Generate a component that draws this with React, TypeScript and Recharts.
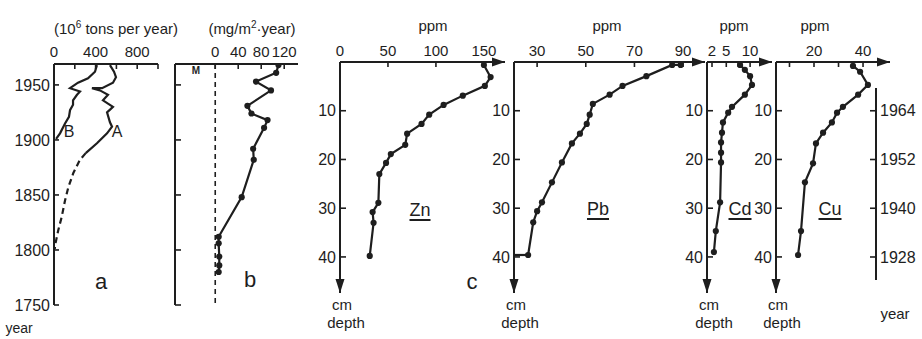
import React from 'react';
import { ScatterChart, Scatter, XAxis, YAxis, ReferenceLine, ReferenceDot } from 'recharts';

const W = 922;
const H = 339;
const INK = '#1e1e1e';
const FONT = "'Liberation Sans', Arial, sans-serif";

// ---------- panel a : emissions (10^6 tons per year) ----------
const yearTicks = [1750, 1800, 1850, 1900, 1950];
const emissionTicks = [0, 200, 400, 600, 800, 1000];
const emissionTickLabels = ['0', '', '400', '', '800', ''];
const curveAYears = [1968, 1962, 1957, 1952, 1947, 1947, 1945, 1941, 1936, 1930, 1925, 1916, 1912, 1906, 1897, 1888];
const curveAValues = [538, 577, 596, 567, 462, 365, 442, 519, 471, 567, 510, 538, 558, 510, 413, 305];
const curveAEarlyYears = [1888, 1882, 1870, 1857, 1845, 1830, 1818, 1804, 1801];
const curveAEarlyValues = [305, 250, 186, 138, 106, 74, 41, 10, 8];
const curveBYears = [1968, 1962, 1956, 1952, 1947, 1944, 1941, 1936, 1932, 1927, 1921, 1915, 1906, 1901];
const curveBValues = [413, 394, 327, 231, 154, 250, 221, 183, 183, 154, 144, 106, 58, 20];

// ---------- panel b : deposition (mg/m2 year) ----------
const depositionTicks = [0, 40, 80, 120];
const depositionYears = [1968, 1961, 1953, 1945, 1931, 1924, 1918, 1911, 1892, 1882, 1848, 1812, 1806, 1794, 1786, 1780];
const depositionValues = [110, 106, 71, 97, 56, 63, 91, 85, 66, 67, 46, 6, 6, 7, 7, 6];

// ---------- panel c : sediment profiles (ppm vs cm depth) ----------
const depthTicks = [10, 20, 30, 40];
const znTicks = [0, 50, 100, 150];
const znTickLabels = ['0', '50', '100', '150'];
const znDepths = [0.6, 3.1, 4.9, 6.9, 8.8, 10.8, 12.7, 14.7, 17.0, 18.9, 20.7, 23.0, 28.9, 30.8, 33.0, 39.8];
const znValues = [150, 157, 151, 128, 108, 93, 85, 70, 68, 53, 48, 41, 40, 34, 35, 31];

const pbTicks = [30, 50, 70, 90];
const pbTickLabels = ['30', '50', '70', '90'];
const pbDepths = [0.6, 0.6, 2.9, 4.9, 6.7, 8.6, 10.8, 12.7, 14.7, 16.7, 20.6, 24.7, 28.8, 30.6, 32.9, 39.6];
const pbValues = [89, 85.5, 74.9, 65.1, 59.8, 52.9, 51.6, 50.4, 47.6, 44.3, 40.2, 36.1, 32.0, 30.0, 28.4, 26.3];
const pbTailDepths = [39.6, 39.6];
const pbTailValues = [26.3, 20.5];

const cdTicks = [2, 5, 7.5, 10];
const cdTickLabels = ['2', '5', '', '10'];
const cdDepths = [0.6, 1.6, 2.9, 4.7, 6.7, 9.2, 10.4, 12.4, 14.5, 16.5, 18.6, 20.6, 28.8, 34.7, 39.0];
const cdValues = [7.9, 8.9, 10.0, 10.4, 8.9, 6.2, 5.4, 4.3, 4.1, 3.9, 3.9, 3.9, 3.7, 2.8, 2.4];

const cuTicks = [10, 20, 30, 40];
const cuTickLabels = ['', '20', '', '40'];
const cuDepths = [0.8, 2.0, 4.7, 6.7, 9.2, 10.4, 12.4, 14.5, 16.7, 20.8, 24.7, 34.7, 39.6];
const cuValues = [35.9, 38.8, 42.0, 38.0, 31.8, 29.4, 27.3, 23.7, 20.8, 19.6, 16.3, 14.7, 13.5];

const yearScaleDepths = [10, 20, 30, 40];
const yearScaleLabels = ['1964', '1952', '1940', '1928'];

// ---------- helpers ----------
const pts = (xs: number[], ys: number[]) => xs.map((v, i) => ({ v, d: ys[i] }));

type Rect = { left: number; top: number; right: number; bottom: number };
const XH = 24;
const YW = 40;
const marginFor = (r: Rect, xh = XH, yw = YW) => ({
  top: r.top - xh,
  left: r.left - yw,
  right: W - r.right,
  bottom: H - r.bottom,
});

const axisStyle = { stroke: INK, strokeWidth: 2 };
const tickStyle = { stroke: INK, strokeWidth: 1.6 };
const tickText = { fill: INK, fontSize: 15, fontFamily: FONT };
const lineStyle = { stroke: INK, strokeWidth: 2.2, fill: 'none' };

const Dot = (p: any) => <circle cx={p.cx} cy={p.cy} r={3.1} fill={INK} />;
const NoDot = () => <g />;
const ArrowRight = (p: any) => (
  <polygon points={`${p.cx},${p.cy} ${p.cx - 13},${p.cy - 4.5} ${p.cx - 13},${p.cy + 4.5}`} fill={INK} />
);
const ArrowDown = (p: any) => (
  <polygon points={`${p.cx},${p.cy} ${p.cx - 4.5},${p.cy - 14} ${p.cx + 4.5},${p.cy - 14}`} fill={INK} />
);

const Layer = ({ children }: { children: React.ReactNode }) => (
  <div style={{ position: 'absolute', left: 0, top: 0, width: W, height: H }}>{children}</div>
);

const Txt = ({ x, y, size = 15, children, anchor = 'middle', underline = false, bold = false }: any) => (
  <div
    style={{
      position: 'absolute',
      left: x,
      top: y,
      transform: `translate(${anchor === 'middle' ? -50 : anchor === 'end' ? -100 : 0}%, -50%)`,
      fontFamily: FONT,
      fontSize: size,
      fontWeight: bold ? 700 : 400,
      color: INK,
      whiteSpace: 'nowrap',
      lineHeight: 1,
      textDecoration: underline ? 'underline' : undefined,
      textDecorationThickness: underline ? 2 : undefined,
      textUnderlineOffset: underline ? 3 : undefined,
    }}
  >
    {children}
  </div>
);

const labelFrom = (ticks: number[], labels: string[]) => (v: number) => {
  const i = ticks.indexOf(v);
  return i >= 0 ? labels[i] : '';
};

// ---------- panels ----------
const rectA: Rect = { left: 54, top: 64, right: 158, bottom: 305 };
const rectB: Rect = { left: 175, top: 64, right: 298, bottom: 305 };

function PanelA() {
  return (
    <ScatterChart width={W} height={H} margin={marginFor(rectA)}>
      <XAxis
        dataKey="v" type="number" orientation="top" domain={[0, 1000]} ticks={emissionTicks} interval={0}
        tickFormatter={labelFrom(emissionTicks, emissionTickLabels)} height={XH} tickSize={-5} tickMargin={12}
        axisLine={axisStyle} tickLine={tickStyle} tick={tickText} allowDataOverflow
      />
      <YAxis
        dataKey="d" type="number" domain={[1750, 1969]} ticks={yearTicks} interval={0} width={YW}
        tickSize={-5} tickMargin={9} axisLine={axisStyle} tickLine={tickStyle} tick={{ ...tickText, fontSize: 16 }} allowDataOverflow
      />
      <Scatter data={pts(curveAValues, curveAYears)} line={lineStyle} lineType="joint" shape={NoDot} fill={INK} isAnimationActive={false} />
      <Scatter data={pts(curveAEarlyValues, curveAEarlyYears)} line={{ ...lineStyle, strokeDasharray: '6 4' }} lineType="joint" shape={NoDot} fill={INK} isAnimationActive={false} />
      <Scatter data={pts(curveBValues, curveBYears)} line={lineStyle} lineType="joint" shape={NoDot} fill={INK} isAnimationActive={false} />
    </ScatterChart>
  );
}

function PanelB() {
  return (
    <ScatterChart width={W} height={H} margin={marginFor(rectB)}>
      <XAxis
        dataKey="v" type="number" orientation="top" domain={[-70, 144]} ticks={depositionTicks} interval={0}
        height={XH} tickSize={-5} tickMargin={12} axisLine={axisStyle} tickLine={tickStyle} tick={tickText} allowDataOverflow
      />
      <YAxis
        dataKey="d" type="number" domain={[1750, 1969]} ticks={yearTicks} interval={0} width={YW}
        tickFormatter={() => ''} tickSize={-6} tickMargin={9} axisLine={axisStyle} tickLine={tickStyle} tick={tickText} allowDataOverflow
      />
      <ReferenceLine x={0} stroke={INK} strokeWidth={1.6} strokeDasharray="5 4" />
      <Scatter data={pts(depositionValues, depositionYears)} line={lineStyle} lineType="joint" shape={Dot} fill={INK} isAnimationActive={false} />
    </ScatterChart>
  );
}

function DepthPanel({ rect, domain, ticks, labels, series, tail }: any) {
  return (
    <ScatterChart width={W} height={H} margin={marginFor(rect)}>
      <XAxis
        dataKey="v" type="number" orientation="top" domain={domain} ticks={ticks} interval={0}
        tickFormatter={labelFrom(ticks, labels)} height={XH} tickSize={-5} tickMargin={11}
        axisLine={axisStyle} tickLine={tickStyle} tick={tickText} allowDataOverflow
      />
      <YAxis
        dataKey="d" type="number" reversed domain={[0, 47.4]} ticks={depthTicks} interval={0} width={YW}
        tickSize={-6} tickMargin={10} axisLine={axisStyle} tickLine={tickStyle} tick={{ ...tickText, fontSize: 16 }} allowDataOverflow
      />
      <ReferenceDot x={domain[1]} y={0} r={0} shape={ArrowRight} ifOverflow="visible" />
      <ReferenceDot x={domain[0]} y={47.4} r={0} shape={ArrowDown} ifOverflow="visible" />
      {tail ? (
        <Scatter data={tail} line={lineStyle} lineType="joint" shape={NoDot} fill={INK} isAnimationActive={false} />
      ) : null}
      <Scatter data={series} line={lineStyle} lineType="joint" shape={Dot} fill={INK} isAnimationActive={false} />
    </ScatterChart>
  );
}

function YearScale() {
  const rect: Rect = { left: 860, top: 88, right: 876, bottom: 280 };
  return (
    <ScatterChart width={W} height={H} margin={{ top: rect.top, left: rect.left, right: W - rect.right - YW, bottom: H - rect.bottom }}>
      <XAxis dataKey="v" type="number" domain={[0, 1]} hide />
      <YAxis
        dataKey="d" type="number" orientation="right" reversed domain={[5.33, 44.72]} ticks={yearScaleDepths} interval={0}
        width={YW} tickFormatter={labelFrom(yearScaleDepths, yearScaleLabels)} tickSize={-6} tickMargin={10}
        axisLine={axisStyle} tickLine={tickStyle} tick={{ ...tickText, fontSize: 16 }} allowDataOverflow
      />
      <Scatter data={[]} shape={NoDot} isAnimationActive={false} />
    </ScatterChart>
  );
}

export default function App() {
  return (
    <div style={{ position: 'absolute', left: 0, top: 0, width: W, height: H, background: '#fff', overflow: 'hidden' }}>
      <Layer><PanelA /></Layer>
      <Layer><PanelB /></Layer>
      <Layer>
        <DepthPanel rect={{ left: 340, top: 62, right: 505, bottom: 293 }} domain={[0, 172]} ticks={znTicks} labels={znTickLabels} series={pts(znValues, znDepths)} />
      </Layer>
      <Layer>
        <DepthPanel rect={{ left: 514, top: 62, right: 705, bottom: 293 }} domain={[20.5, 99]} ticks={pbTicks} labels={pbTickLabels} series={pts(pbValues, pbDepths)} tail={pts(pbTailValues, pbTailDepths)} />
      </Layer>
      <Layer>
        <DepthPanel rect={{ left: 707, top: 62, right: 772, bottom: 293 }} domain={[0.95, 14.6]} ticks={cdTicks} labels={cdTickLabels} series={pts(cdValues, cdDepths)} />
      </Layer>
      <Layer>
        <DepthPanel rect={{ left: 776, top: 62, right: 890, bottom: 293 }} domain={[4.5, 51]} ticks={cuTicks} labels={cuTickLabels} series={pts(cuValues, cuDepths)} />
      </Layer>
      <Layer><YearScale /></Layer>

      <Txt x={116} y={28}>(10<sup style={{ fontSize: 10 }}>6</sup> tons per year)</Txt>
      <Txt x={252} y={28}>(mg/m<sup style={{ fontSize: 10 }}>2</sup>·year)</Txt>
      <Txt x={433} y={25}>ppm</Txt>
      <Txt x={607} y={25}>ppm</Txt>
      <Txt x={734} y={25}>ppm</Txt>
      <Txt x={815} y={25}>ppm</Txt>

      <Txt x={117} y={132} size={16}>A</Txt>
      <Txt x={69} y={132} size={16}>B</Txt>
      <Txt x={196} y={71} size={10} bold>M</Txt>
      <Txt x={101} y={282} size={22}>a</Txt>
      <Txt x={250} y={280} size={22}>b</Txt>
      <Txt x={472} y={282} size={22}>c</Txt>

      <Txt x={420} y={210} size={18} underline>Zn</Txt>
      <Txt x={598} y={209} size={18} underline>Pb</Txt>
      <Txt x={740} y={209} size={18} underline>Cd</Txt>
      <Txt x={830} y={209} size={18} underline>Cu</Txt>

      <Txt x={342} y={304}>cm</Txt>
      <Txt x={346} y={322}>depth</Txt>
      <Txt x={516} y={304}>cm</Txt>
      <Txt x={520} y={322}>depth</Txt>
      <Txt x={709} y={304}>cm</Txt>
      <Txt x={714} y={322}>depth</Txt>
      <Txt x={778} y={304}>cm</Txt>
      <Txt x={782} y={322}>depth</Txt>

      <Txt x={19} y={328} size={14}>year</Txt>
      <Txt x={895} y={313}>year</Txt>
    </div>
  );
}
